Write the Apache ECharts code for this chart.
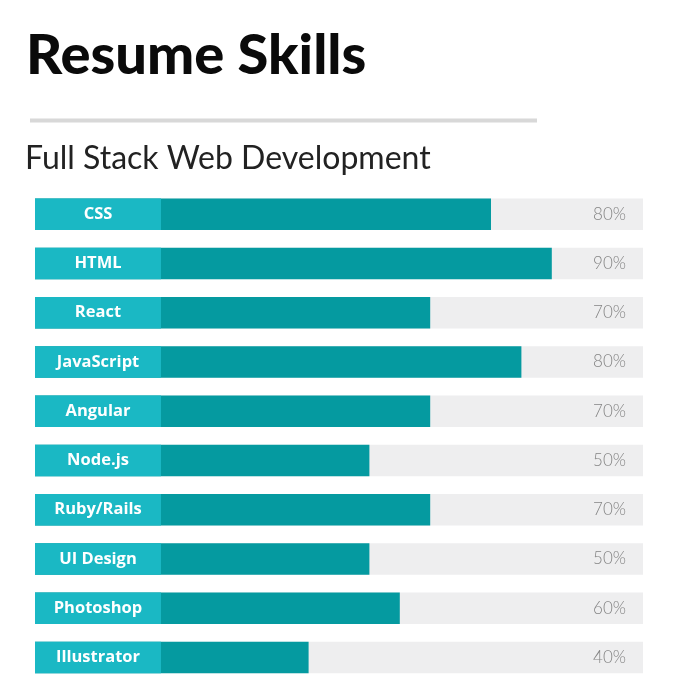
<!DOCTYPE html>
<html>
<head>
<meta charset="utf-8">
<script src="https://cdn.jsdelivr.net/npm/echarts@6/dist/echarts.min.js"></script>
<style>
html,body{margin:0;padding:0;background:#fff;overflow:hidden;}
#chart{width:683px;height:690px;}
</style>
</head>
<body>
<div id="chart"></div>
<script>
// Data
const skills = ['CSS','HTML','React','JavaScript','Angular','Node.js','Ruby/Rails','UI Design','Photoshop','Illustrator'];
// bar length (as drawn, on a 0-100 track that includes the label box)
const barLength = [75, 85, 65, 80, 65, 55, 65, 55, 60, 45];
// percentage text shown at the right of each track
const percentText = [80, 90, 70, 80, 70, 50, 70, 50, 60, 40];
const trackFull = [100, 100, 100, 100, 100, 100, 100, 100, 100, 100];
const titleText = 'Resume Skills';
const subtitleText = 'Full Stack Web Development';

const LABEL_BOX = 20.72; // width of the label box, in track units
const labelBox = skills.map(() => LABEL_BOX);

const chart = echarts.init(document.getElementById('chart'), null, {renderer:'canvas'});
const BW = 31.5;
chart.setOption({
  animation:false,
  backgroundColor:'#ffffff',
  title:[
    {text:titleText, left:21, top:23,
     textStyle:{fontFamily:'Lato', fontWeight:900, fontSize:56, color:'#0a0a0a'}},
    {text:subtitleText, left:20, top:138,
     textStyle:{fontFamily:'Lato', fontWeight:400, fontSize:32, color:'#222222'}}
  ],
  graphic:[
    {type:'rect', shape:{x:30, y:118.5, width:507, height:4}, style:{fill:'#d8d8d8'}}
  ],
  grid:{left:35, width:608, top:189.6, height:492.4, containLabel:false},
  xAxis:{type:'value', min:0, max:100, show:false},
  yAxis:{type:'category', data:skills, inverse:true, show:false},
  series:[
    {type:'bar', data:trackFull, barWidth:BW, barGap:'-100%', silent:true,
     itemStyle:{color:'#eeeeef'},
     label:{show:true, position:'insideRight', distance:17,
       formatter:p=>percentText[p.dataIndex]+'%',
       fontFamily:'Lato', fontWeight:300, fontSize:17, color:'#858585'}},
    {type:'bar', data:barLength, barWidth:BW, barGap:'-100%', silent:true,
     itemStyle:{color:'#059aa0'}},
    {type:'bar', data:labelBox, barWidth:BW, barGap:'-100%', silent:true,
     itemStyle:{color:'#1ab8c4'},
     label:{show:true, position:'inside', formatter:p=>skills[p.dataIndex],
       fontFamily:'Open Sans', fontWeight:700, fontSize:16.5, color:'#ffffff'}}
  ]
});
</script>
</body>
</html>
